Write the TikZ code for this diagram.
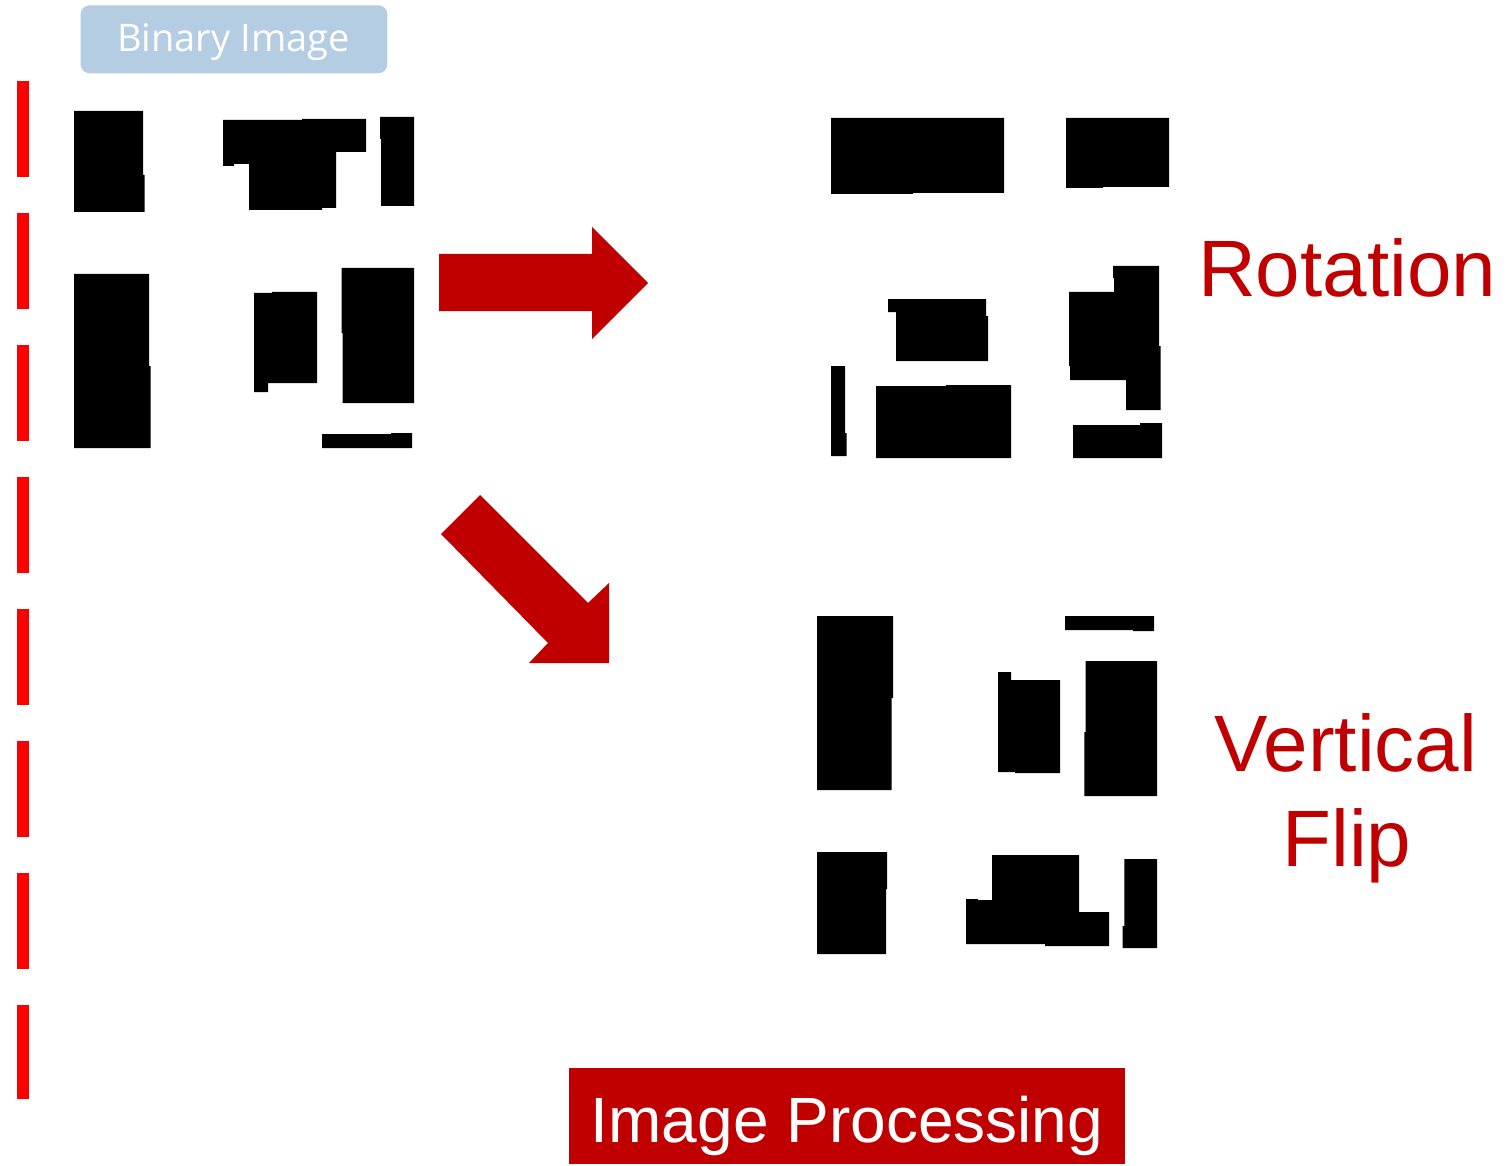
\documentclass[tikz,border=0pt]{standalone}
\usepackage{fontspec}
\setmainfont{Liberation Sans}
\newfontfamily\tagfont{Open Sans}
\definecolor{darkred}{HTML}{C00000}
\definecolor{tagblue}{HTML}{B4CDE3}
\begin{document}
\begin{tikzpicture}[x=1pt,y=-1pt,
  blob/.style={fill=black},
  bigarrow/.style={fill=darkred},
  redtext/.style={text=darkred,inner sep=0pt,font=\fontsize{80}{96}\selectfont},
  splitline/.style={draw=red,line width=12pt,dash pattern=on 96pt off 36pt}]
\useasboundingbox (0,0) rectangle (1512,1166);

% header tag
\node[fill=tagblue,rounded corners=9pt,minimum width=306.6pt,minimum height=68pt,inner sep=0pt] (tag) at (234,39.3) {};
\node[text=white,anchor=base,inner sep=0pt,font=\tagfont\fontsize{38}{46}\selectfont] (tagtext) at (233.5,52) {Binary Image};

% dashed separator
\coordinate (sepTop) at (23.3,80.7);
\coordinate (sepBot) at (23.3,1099);
\draw[splitline] (sepTop) -- (sepBot);

% original binary image
\fill[blob] (74,111)--(143,111)--(143,175)--(144.5,175)--(144.5,212)--(74,212)--cycle;
\fill[blob] (223,120)--(302,120)--(302,119)--(366,119)--(366,152)--(336,152)--(336,208)--(322,208)--(322,210)--(249,210)--(249,164)--(234,164)--(234,166)--(223,166)--cycle;
\fill[blob] (380,117)--(414,117)--(414,206)--(381,206)--(381,139)--(380,139)--cycle;
\fill[blob] (74,274)--(149,274)--(149,366)--(150.5,366)--(150.5,448)--(74,448)--cycle;
\fill[blob] (254,293)--(272,293)--(272,292)--(317,292)--(317,383)--(268,383)--(268,392)--(254,392)--cycle;
\fill[blob] (341.7,268)--(414,268)--(414,403)--(342.7,403)--(342.7,333)--(341.7,333)--cycle;
\fill[blob] (322,434)--(391,434)--(391,433)--(412,433)--(412,448)--(322,448)--cycle;

% rotated image
\fill[blob] (831,118)--(1004,118)--(1004,193)--(913,193)--(913,194)--(831,194)--cycle;
\fill[blob] (1066,118)--(1169,118)--(1169,187)--(1103,187)--(1103,188)--(1066,188)--cycle;
\fill[blob] (888,299)--(986,299)--(986,316)--(988,316)--(988,361)--(896,361)--(896,312)--(888,312)--cycle;
\fill[blob] (831,366)--(845,366)--(845,433)--(846.7,433)--(846.7,456)--(831,456)--cycle;
\fill[blob] (876,386)--(946,386)--(946,385)--(1011,385)--(1011,458)--(876,458)--cycle;
\fill[blob] (1113,266)--(1159,266)--(1159,346)--(1160.5,346)--(1160.5,410)--(1126,410)--(1126,380)--(1070,380)--(1070,366)--(1069,366)--(1069,292)--(1114,292)--(1114,278)--(1113,278)--cycle;
\fill[blob] (1073,425)--(1140,425)--(1140,423)--(1162,423)--(1162,458)--(1073,458)--cycle;

% vertically flipped image
\fill[blob] (817,616)--(893,616)--(893,698)--(891.7,698)--(891.7,790)--(817,790)--cycle;
\fill[blob] (1065,616)--(1154,616)--(1154,631)--(1133,631)--(1133,630)--(1065,630)--cycle;
\fill[blob] (998,672)--(1011,672)--(1011,680)--(1060,680)--(1060,773)--(1015,773)--(1015,772)--(998,772)--cycle;
\fill[blob] (1085.7,661)--(1157,661)--(1157,796)--(1084.3,796)--(1084.3,732)--(1085.7,732)--cycle;
\fill[blob] (817,852)--(887,852)--(887,889)--(886,889)--(886,954)--(817,954)--cycle;
\fill[blob] (992,855)--(1079,855)--(1079,912)--(1109,912)--(1109,946)--(1045,946)--(1045,944)--(966,944)--(966,899)--(978,899)--(978,900)--(992,900)--cycle;
\fill[blob] (1124.3,859)--(1157,859)--(1157,948)--(1122.7,948)--(1122.7,926)--(1124.3,926)--cycle;

% block arrows
\fill[bigarrow] (439,254)--(592,254)--(592,227)--(648,283)--(592,339)--(592,311)--(439,311)--cycle;
\fill[bigarrow] (480,495)--(588,603)--(609,583)--(609,663)--(529,663)--(548,643)--(441,534)--cycle;

% labels
\node[redtext,anchor=base west] (rotation) at (1198,296) {Rotation};
\node[redtext,anchor=base] (vertical) at (1346,771) {Vertical};
\node[redtext,anchor=base] (flip) at (1347,866) {Flip};

% caption box
\node[fill=darkred,minimum width=556pt,minimum height=96pt,inner sep=0pt] (procbox) at (847,1116) {};
\node[text=white,anchor=base,inner sep=0pt,font=\fontsize{64}{77}\selectfont] (proctext) at (847,1142) {Image Processing};
\end{tikzpicture}
\end{document}
